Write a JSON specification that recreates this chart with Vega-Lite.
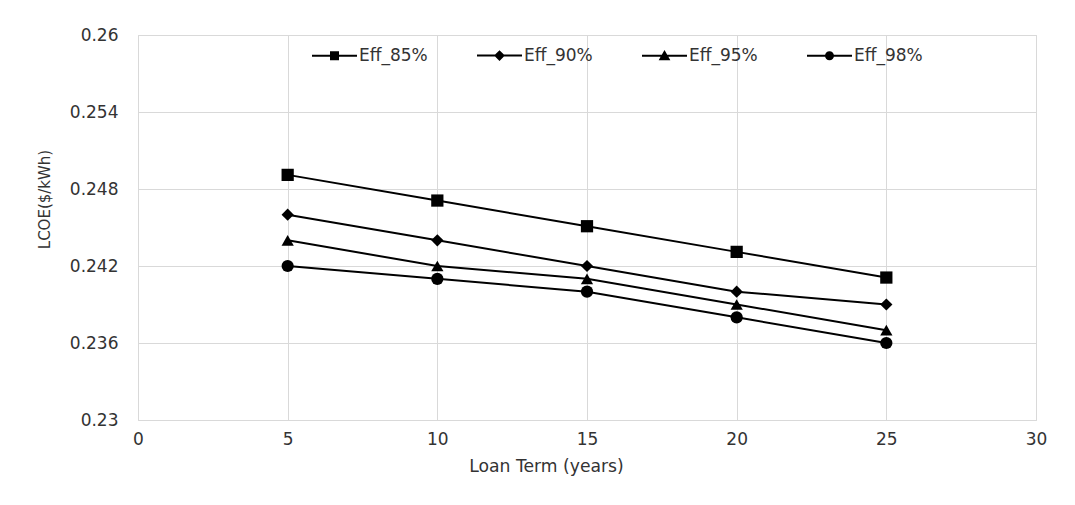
{
  "$schema": "https://vega.github.io/schema/vega-lite/v6.json",
  "width": 898,
  "height": 385,
  "autosize": {"type": "none"},
  "padding": {"left": 138, "top": 35, "right": 39, "bottom": 85},
  "background": "white",
  "config": {
    "font": "DejaVu Sans",
    "view": {"stroke": "#d9d9d9", "strokeWidth": 1},
    "axis": {
      "domain": false,
      "ticks": false,
      "grid": true,
      "gridColor": "#d9d9d9",
      "gridWidth": 1,
      "labelFont": "DejaVu Sans",
      "labelFontSize": 17,
      "labelColor": "#333333",
      "labelFlush": false,
      "titleFont": "DejaVu Sans",
      "titleFontSize": 17.2,
      "titleFontWeight": "normal",
      "titleColor": "#333333"
    }
  },
  "data": {
    "values": [
      {"term": 5, "lcoe": 0.2491, "series": "Eff_85%"},
      {"term": 10, "lcoe": 0.2471, "series": "Eff_85%"},
      {"term": 15, "lcoe": 0.2451, "series": "Eff_85%"},
      {"term": 20, "lcoe": 0.2431, "series": "Eff_85%"},
      {"term": 25, "lcoe": 0.2411, "series": "Eff_85%"},
      {"term": 5, "lcoe": 0.246, "series": "Eff_90%"},
      {"term": 10, "lcoe": 0.244, "series": "Eff_90%"},
      {"term": 15, "lcoe": 0.242, "series": "Eff_90%"},
      {"term": 20, "lcoe": 0.24, "series": "Eff_90%"},
      {"term": 25, "lcoe": 0.239, "series": "Eff_90%"},
      {"term": 5, "lcoe": 0.244, "series": "Eff_95%"},
      {"term": 10, "lcoe": 0.242, "series": "Eff_95%"},
      {"term": 15, "lcoe": 0.241, "series": "Eff_95%"},
      {"term": 20, "lcoe": 0.239, "series": "Eff_95%"},
      {"term": 25, "lcoe": 0.237, "series": "Eff_95%"},
      {"term": 5, "lcoe": 0.242, "series": "Eff_98%"},
      {"term": 10, "lcoe": 0.241, "series": "Eff_98%"},
      {"term": 15, "lcoe": 0.24, "series": "Eff_98%"},
      {"term": 20, "lcoe": 0.238, "series": "Eff_98%"},
      {"term": 25, "lcoe": 0.236, "series": "Eff_98%"}
    ]
  },
  "encoding": {
    "x": {
      "field": "term",
      "type": "quantitative",
      "scale": {"domain": [0, 30], "nice": false, "zero": false},
      "axis": {
        "values": [0, 5, 10, 15, 20, 25, 30],
        "labelPadding": 11,
        "title": "Loan Term (years)",
        "titlePadding": 10,
        "titleX": 408,
        "titleAnchor": "middle"
      }
    },
    "y": {
      "field": "lcoe",
      "type": "quantitative",
      "scale": {"domain": [0.23, 0.26], "nice": false, "zero": false},
      "axis": {
        "values": [0.23, 0.236, 0.242, 0.248, 0.254, 0.26],
        "format": ".3~f",
        "labelPadding": 20,
        "title": "LCOE($/kWh)",
        "titleFontSize": 15,
        "titleY": 164,
        "titleAnchor": "middle",
        "titlePadding": 17
      }
    }
  },
  "layer": [
    {
      "mark": {"type": "line", "color": "black", "strokeWidth": 2},
      "encoding": {"detail": {"field": "series"}}
    },
    {
      "mark": {"type": "point", "filled": true, "color": "black", "opacity": 1, "size": 150},
      "encoding": {
        "shape": {
          "field": "series",
          "type": "nominal",
          "scale": {"range": ["square", "diamond", "triangle-up", "circle"]},
          "legend": null
        }
      }
    },
    {
      "mark": {"type": "point", "filled": true, "color": "black", "opacity": 1, "size": 0},
      "encoding": {
        "shape": {
          "field": "series",
          "type": "nominal",
          "scale": {
            "range": [
              "M-1,-0.045H1V0.045H-1ZM-0.2,-0.2H0.2V0.2H-0.2Z",
              "M-1,-0.045H1V0.045H-1ZM0,-0.24L0.24,0L0,0.24L-0.24,0Z",
              "M-1,-0.045H1V0.045H-1ZM0,-0.26L0.26,0.2L-0.26,0.2Z",
              "M-1,-0.045H1V0.045H-1ZM-0.2,0A0.2,0.2 0 1,1 0.2,0A0.2,0.2 0 1,1 -0.2,0Z"
            ]
          },
          "legend": {
            "title": null,
            "orient": "none",
            "direction": "horizontal",
            "columns": 4,
            "legendX": 173,
            "legendY": -3,
            "padding": 0,
            "columnPadding": 46,
            "symbolSize": 2025,
            "symbolFillColor": "black",
            "symbolOpacity": 1,
            "labelOffset": 1,
            "labelFontSize": 17,
            "labelColor": "#333333",
            "labelFont": "DejaVu Sans"
          }
        }
      }
    }
  ],
  "resolve": {"scale": {"shape": "independent"}, "legend": {"shape": "independent"}}
}
